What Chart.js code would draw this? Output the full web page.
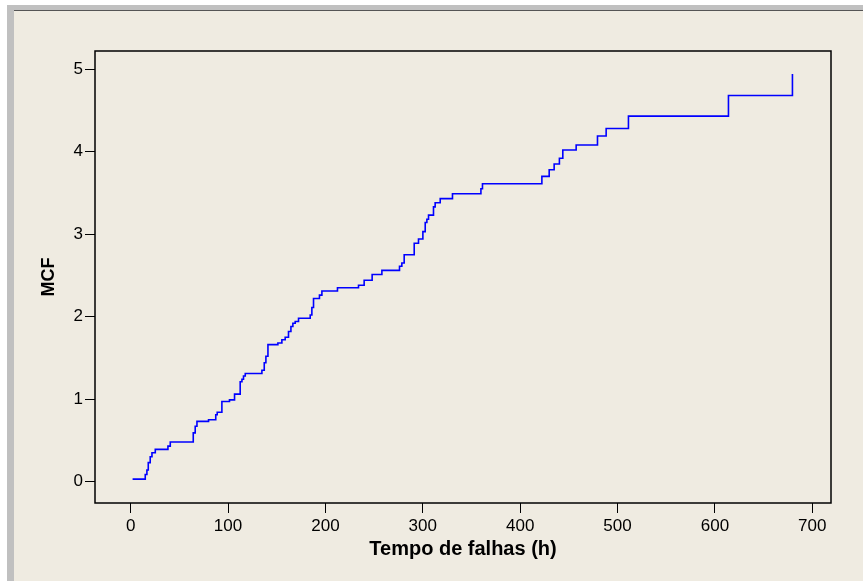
<!DOCTYPE html>
<html>
<head>
<meta charset="utf-8">
<script src="https://cdn.jsdelivr.net/npm/chart.js@4"></script>
<style>
  html, body { margin: 0; padding: 0; background: #fff; }
  #wrap { position: relative; width: 863px; height: 581px; overflow: hidden; }
  #gray { position: absolute; left: 7px; top: 5px; right: 0; bottom: 0; background: #c0c0c0; }
  #beige { position: absolute; left: 14px; top: 10px; right: 0; bottom: 0; background: #efebe1; border-top: 1px solid #555; }
  canvas { position: absolute; left: 0; top: 0; }
</style>
</head>
<body>
<div id="wrap">
  <div id="gray"></div>
  <div id="beige"></div>
  <canvas id="grafico" width="863" height="581"></canvas>
</div>
<script>
// tempos de falha (h) e MCF acumulada
const failTimes = [2, 15, 16.7, 18.1, 20.1, 21.9, 25.3, 38.3, 40.7, 64.3, 66.3, 68.1, 80,
  87.4, 88.9, 93.7, 101.5, 106.7, 112.5, 114.3, 115.9, 117.7, 134.8, 137.2, 138.9, 141,
  151.2, 155.3, 158.7, 162.1, 164.6, 166.6, 169, 172.4, 184.4, 186.1, 187.8, 193.9, 196.4,
  212.4, 234, 239.8, 248, 258, 276.1, 278.5, 280.9, 291.2, 295.6, 300.1, 302.5, 304.2, 305.9,
  311, 312.7, 317.9, 330.5, 359.7, 361.3, 422.3, 429.8, 434.9, 440.3, 443.8, 457.5, 479.4,
  488.3, 511.2, 613.9, 679.6];
const mcfValues = [0.03, 0.085, 0.14, 0.23, 0.30, 0.35, 0.39, 0.43, 0.48, 0.59, 0.67, 0.73, 0.75,
  0.81, 0.84, 0.97, 0.99, 1.06, 1.21, 1.24, 1.28, 1.31, 1.35, 1.44, 1.52, 1.66,
  1.68, 1.72, 1.75, 1.82, 1.88, 1.92, 1.94, 1.98, 2.02, 2.11, 2.22, 2.26, 2.31,
  2.35, 2.38, 2.44, 2.51, 2.56, 2.61, 2.65, 2.75, 2.89, 2.94, 3.03, 3.14, 3.18, 3.23,
  3.33, 3.38, 3.43, 3.49, 3.55, 3.61, 3.70, 3.78, 3.85, 3.92, 4.02, 4.08, 4.19,
  4.28, 4.43, 4.68, 4.94];
const xTicks = [0, 100, 200, 300, 400, 500, 600, 700];
const yTicks = [0, 1, 2, 3, 4, 5];

const fonte = 'Liberation Sans, Arial, sans-serif';

// moldura preta em volta da area do grafico
const caixa = {
  id: 'caixa',
  afterDraw(chart) {
    const a = chart.chartArea;
    const c = chart.ctx;
    c.save();
    c.strokeStyle = '#000';
    c.lineWidth = 1.5;
    c.strokeRect(a.left, a.top, a.right - a.left, a.bottom - a.top);
    c.restore();
  }
};

new Chart(document.getElementById('grafico'), {
  type: 'line',
  data: {
    datasets: [{
      data: failTimes.map((t, i) => ({ x: t, y: mcfValues[i] })),
      borderColor: '#0000ff',
      borderWidth: 1.6,
      pointRadius: 0,
      stepped: true,
      fill: false
    }]
  },
  options: {
    responsive: false,
    animation: false,
    devicePixelRatio: 1,
    layout: { padding: { top: 51, right: 32, left: 0, bottom: 0 } },
    plugins: { legend: { display: false }, tooltip: { enabled: false } },
    scales: {
      x: {
        type: 'linear',
        min: -36.6,
        max: 719.2,
        afterBuildTicks: s => { s.ticks = xTicks.map(v => ({ value: v })); },
        afterFit: s => { s.height = 78; },
        border: { display: false },
        grid: { drawOnChartArea: false, tickLength: 10, tickColor: '#000', tickWidth: 1 },
        ticks: { color: '#000', font: { family: fonte, size: 17 }, padding: 3, maxRotation: 0 },
        title: {
          display: true,
          text: 'Tempo de falhas (h)',
          color: '#000',
          font: { family: fonte, size: 20, weight: 'bold' },
          padding: { top: 20, bottom: 20 }
        }
      },
      y: {
        min: -0.26,
        max: 5.22,
        afterBuildTicks: s => { s.ticks = yTicks.map(v => ({ value: v })); },
        afterFit: s => { s.width = 95; },
        border: { display: false },
        grid: { drawOnChartArea: false, tickLength: 10, tickColor: '#000', tickWidth: 1 },
        ticks: { color: '#000', font: { family: fonte, size: 17 }, padding: 2 },
        title: {
          display: true,
          text: 'MCF',
          color: '#000',
          font: { family: fonte, size: 18, weight: 'bold' },
          padding: { top: 38, bottom: 38 }
        }
      }
    }
  },
  plugins: [caixa]
});
</script>
</body>
</html>
